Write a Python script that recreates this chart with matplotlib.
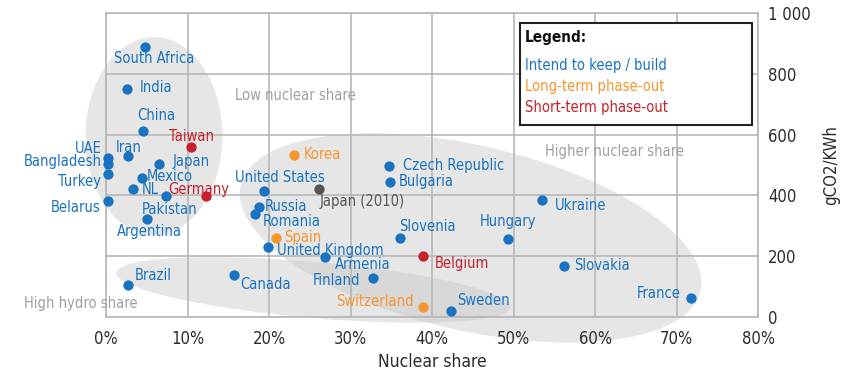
import matplotlib
matplotlib.use("Agg")
import matplotlib.pyplot as plt
from matplotlib.patches import Ellipse, Rectangle
from matplotlib.transforms import IdentityTransform

# data: nuclear share (%) and gCO2/kWh
countries = ["South Africa", "India", "China", "Taiwan", "UAE", "Bangladesh", "Turkey",
             "Iran", "Japan", "Mexico", "NL", "Germany", "Pakistan", "Belarus", "Argentina",
             "United States", "Russia", "Romania", "Spain", "United Kingdom", "Brazil",
             "Canada", "Korea", "Czech Republic", "Bulgaria", "Japan (2010)", "Ukraine",
             "Slovenia", "Hungary", "Belgium", "Armenia", "Finland", "Switzerland",
             "Sweden", "Slovakia", "France"]
nuclear = [4.8, 2.6, 4.5, 10.4, 0.2, 0.2, 0.2,
           2.7, 6.5, 4.4, 3.3, 12.2, 7.3, 0.2, 5.0,
           19.3, 18.7, 18.2, 20.8, 19.8, 2.7,
           15.7, 23.0, 34.7, 34.8, 26.1, 53.5,
           36.0, 49.3, 38.8, 26.8, 32.7, 38.8,
           42.3, 56.1, 71.7]
co2 = [889, 750, 613, 558, 522, 502, 469,
       529, 502, 456, 420, 398, 398, 383, 323,
       415, 361, 338, 261, 229, 105,
       137, 533, 498, 445, 420, 386,
       259, 257, 202, 196, 127, 34,
       21, 168, 64]
status = ["keep", "keep", "keep", "short", "keep", "keep", "keep",
          "keep", "keep", "keep", "keep", "short", "keep", "keep", "keep",
          "keep", "keep", "keep", "long", "keep", "keep",
          "keep", "long", "keep", "keep", "ref", "keep",
          "keep", "keep", "short", "keep", "keep", "long",
          "keep", "keep", "keep"]

legend_labels = ["Intend to keep / build", "Long-term phase-out", "Short-term phase-out"]
legend_keys = ["keep", "long", "short"]

x_ticks = [0, 10, 20, 30, 40, 50, 60, 70, 80]
x_ticklabels = ["0%", "10%", "20%", "30%", "40%", "50%", "60%", "70%", "80%"]
y_ticks = [0, 200, 400, 600, 800, 1000]
y_ticklabels = ["0", "200", "400", "600", "800", "1 000"]

# groupings shown as shaded ellipses: label, centre (data), size in px, angle
groups = [("Low nuclear share", (5.85, 595), 137, 198, 0, (23.2, 730), "center"),
          ("Higher nuclear share", (44.7, 260), 472, 185, -13, (62.4, 543), "center"),
          ("High hydro share", (25.4, 89), 396, 56, -5, (-3.1, 43), "center")]

colors = {"keep": "#1a73c2", "long": "#f7962f", "short": "#c8202a", "ref": "#555555"}

# label placement: (dx px, dy px, ha)
offs = {
    "South Africa": (9, -12, "center"), "India": (12, 2, "left"), "China": (13, 15, "center"),
    "Taiwan": (0, 11, "center"), "UAE": (-6, 10, "right"), "Bangladesh": (-6, 3, "right"),
    "Turkey": (-7, -7, "right"), "Iran": (0, 9, "center"), "Japan": (13, 3, "left"),
    "Mexico": (5, 2, "left"), "NL": (9, 0, "left"), "Germany": (-7, 7, "center"),
    "Pakistan": (4, -13, "center"), "Belarus": (-7, -7, "right"), "Argentina": (2, -13, "center"),
    "United States": (16, 13, "center"), "Russia": (6, 1, "left"), "Romania": (8, -7, "left"),
    "Spain": (8, 0, "left"), "United Kingdom": (9, -3, "left"), "Brazil": (6, 10, "left"),
    "Canada": (6, -9, "left"), "Korea": (10, 0, "left"), "Czech Republic": (14, 0, "left"),
    "Bulgaria": (9, 0, "left"), "Japan (2010)": (1, -12, "left"), "Ukraine": (13, -6, "left"),
    "Slovenia": (-1, 12, "left"), "Hungary": (0, 17, "center"), "Belgium": (12, -8, "left"),
    "Armenia": (10, -7, "left"), "Finland": (-13, -2, "right"), "Switzerland": (-9, 5, "right"),
    "Sweden": (6, 10, "left"), "Slovakia": (11, 0, "left"), "France": (-10, 4, "right"),
}

plt.rcParams["font.family"] = ["DejaVu Sans"]
plt.rcParams["font.stretch"] = "condensed"

fig = plt.figure(figsize=(8.46, 3.8), dpi=100)
ax = fig.add_axes([106.3 / 846, 63 / 380, 652 / 846, 304 / 380])
ax.set_xlim(0, 80)
ax.set_ylim(0, 1000)

ax.set_axisbelow(True)
ax.grid(True, color="#b8b8b8", linewidth=1.2)
for sp in ax.spines.values():
    sp.set_color("#b8b8b8")
    sp.set_linewidth(1.2)

ax.set_xticks(x_ticks)
ax.set_xticklabels(x_ticklabels)
ax.set_yticks(y_ticks)
ax.set_yticklabels(y_ticklabels)
ax.yaxis.tick_right()
ax.yaxis.set_label_position("right")
ax.tick_params(length=0, labelsize=12, labelcolor="#2b2b2b")
ax.tick_params(axis="x", pad=9)
ax.tick_params(axis="y", pad=7)
ax.set_xlabel("Nuclear share", fontsize=12.5, color="#2b2b2b", labelpad=4)
ax.set_ylabel("gCO2/KWh", fontsize=12, color="#2b2b2b", labelpad=8)

# shaded groups
for name, c, w, h, ang, lpos, ha in groups:
    cx, cy = ax.transData.transform(c)
    e = Ellipse((cx, cy), w, h, angle=ang, transform=IdentityTransform(),
                facecolor="#c8c8c8", alpha=0.45, edgecolor="none", zorder=0.3, clip_on=False)
    ax.add_artist(e)
    ax.text(lpos[0], lpos[1], name, fontsize=10.5, color="#a0a0a0", ha=ha, va="center",
            clip_on=False)

for name, x, y, st in zip(countries, nuclear, co2, status):
    col = colors[st]
    ax.scatter(x, y, s=55, color=col, zorder=3, clip_on=False, linewidths=0)
    dx, dy, ha = offs[name]
    ax.annotate(name, (x, y), xytext=(dx, dy), textcoords="offset pixels",
                ha=ha, va="center", fontsize=10.5, color=col, zorder=4,
                annotation_clip=False)

# legend box
ax.add_patch(Rectangle((0.635, 0.632), 0.355, 0.335, transform=ax.transAxes,
                       facecolor="white", edgecolor="#222222", linewidth=1.5, zorder=5))
ax.text(0.642, 0.918, "Legend:", transform=ax.transAxes, fontsize=11, fontweight="bold",
        color="#111111", va="center", zorder=6)
for i, (lab, key) in enumerate(zip(legend_labels, legend_keys)):
    ax.text(0.642, 0.826 - i * 0.069, lab, transform=ax.transAxes, fontsize=10.5,
            color=colors[key], va="center", zorder=6)

fig.savefig("out.png", dpi=100)
